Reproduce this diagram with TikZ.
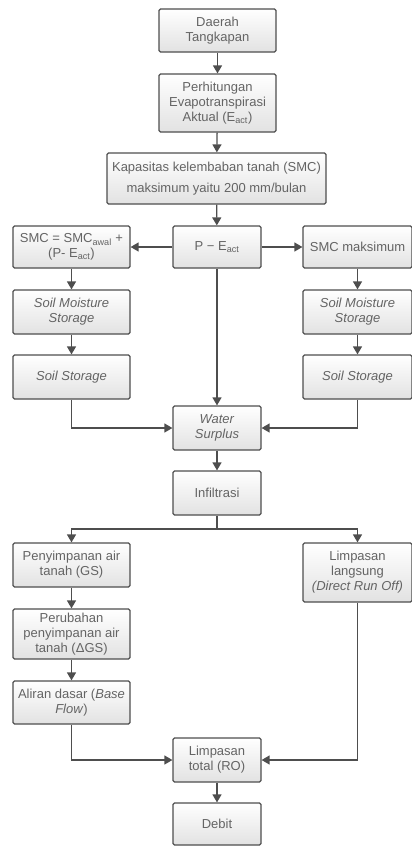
\documentclass[tikz,border=0pt]{standalone}
\usepackage{fontspec}
\setmainfont{Liberation Sans}
\usetikzlibrary{arrows.meta}
\definecolor{boxline}{RGB}{78,78,78}
\definecolor{boxtext}{RGB}{100,100,100}
\definecolor{boxshade}{RGB}{226,226,226}

\begin{document}
\begin{tikzpicture}[
  x=1pt, y=-1pt,
  box/.style={
    draw=boxline, line width=1.2pt, rounded corners=1.5pt,
    top color=white, bottom color=boxshade,
    text=boxtext, align=center, inner sep=1pt,
    font=\fontsize{13}{15}\selectfont,
    minimum width=#1
  },
  box/.default=117pt,
  link/.style={
    draw=boxline, line width=1.3pt,
    -{Triangle[length=8pt,width=9pt]}
  }
  ]
  \useasboundingbox (0,0) rectangle (412,846);

  % centre column
  \node[box, minimum height=43pt] (dt) at (217.5,30.5) {Daerah\\Tangkapan};
  \node[box, minimum height=58pt] (eva) at (217.5,103) {Perhitungan\\Evapotranspirasi\\Aktual (E\textsubscript{act})};
  \node[box=219pt, minimum height=51pt] (smc) at (216.5,178.5) {Kapasitas kelembaban tanah (SMC)\\[6pt]maksimum yaitu 200 mm/bulan};
  \node[box=88pt, minimum height=42pt] (pe) at (217,247) {P − E\textsubscript{act}};
  \node[box=88pt, minimum height=44pt] (ws) at (217,428) {\textit{Water}\\\textit{Surplus}};
  \node[box=88pt, minimum height=44pt] (inf) at (217,493) {Infiltrasi};
  \node[box=88pt, minimum height=44pt] (ro) at (217,760) {Limpasan\\total (RO)};
  \node[box=88pt, minimum height=42pt] (deb) at (217,824) {Debit};

  % left column
  \node[box, minimum height=42pt] (smcl) at (71.5,247) {SMC = SMC\textsubscript{awal} +\\(P- E\textsubscript{act})};
  \node[box, minimum height=44pt] (smsl) at (71.5,312) {\textit{Soil Moisture}\\\textit{Storage}};
  \node[box, minimum height=44pt] (ssl) at (71.5,377) {\textit{Soil Storage}};
  \node[box, minimum height=44pt] (gs) at (71.5,565) {Penyimpanan air\\tanah (GS)};
  \node[box, minimum height=50pt] (dgs) at (71.5,634) {Perubahan\\penyimpanan air\\tanah (ΔGS)};
  \node[box, minimum height=43pt] (bf) at (71.5,702.5) {Aliran dasar (\textit{Base}\\\textit{Flow})};

  % right column
  \node[box=109pt, minimum height=42pt] (smcr) at (357.5,247) {SMC maksimum};
  \node[box=109pt, minimum height=44pt] (smsr) at (357.5,312) {\textit{Soil Moisture}\\\textit{Storage}};
  \node[box=109pt, minimum height=44pt] (ssr) at (357.5,377) {\textit{Soil Storage}};
  \node[box=109pt, minimum height=59pt] (dro) at (357.5,572.5) {Limpasan\\langsung\\\textit{(Direct Run Off)}};

  % straight links
  \foreach \a/\b in {dt/eva,eva/smc,smc/pe,smcl/smsl,smsl/ssl,smcr/smsr,smsr/ssr,
                     pe/ws,ws/inf,gs/dgs,dgs/bf,ro/deb}
    \draw[link] (\a) -- (\b);
  \draw[link] (pe) -- (smcl);
  \draw[link] (pe) -- (smcr);

  % elbow links
  \draw[link] (ssl.south) |- (ws.west);
  \draw[link] (ssr.south) |- (ws.east);
  \draw[link] (bf.south) |- (ro.west);
  \draw[link] (dro.south) |- (ro.east);
  \coordinate (split) at (217,529);
  \draw[boxline, line width=1.3pt] (inf.south) -- (split);
  \draw[link] (split) -| (gs.north);
  \draw[link] (split) -| (dro.north);
\end{tikzpicture}
\end{document}
